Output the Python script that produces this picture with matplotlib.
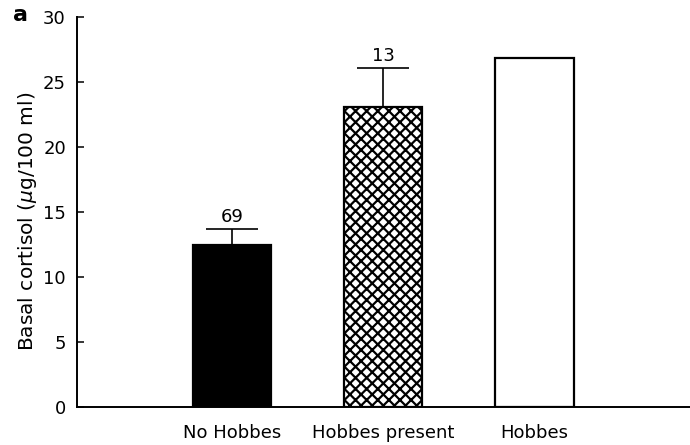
import matplotlib.pyplot as plt
import numpy as np

# basal cortisol by group
groups = ['No Hobbes', 'Hobbes present', 'Hobbes']
cortisol = [12.45, 23.1, 26.85]
sem_upper = [1.25, 3.0, 0.0]
n_labels = ['69', '13', '']
fills = ['black', 'white', 'white']
hatches = [None, 'xxx', None]

plt.rcParams['font.family'] = ['DejaVu Sans']
plt.rcParams['hatch.linewidth'] = 1.6

fig = plt.figure(figsize=(6.9, 4.45), dpi=100)
ax = fig.add_axes([0.1116, 0.0854, 0.8884, 0.8764])

x = np.arange(1, len(groups) + 1)
for xi, val, err, fc, h in zip(x, cortisol, sem_upper, fills, hatches):
    ax.bar(xi, val, width=0.52, color=fc, edgecolor='black', linewidth=1.6, hatch=h)
    if err > 0:
        ax.errorbar(xi, val, yerr=[[0], [err]], fmt='none', ecolor='black',
                    elinewidth=1.2, capsize=19, capthick=1.2)

for xi, val, err, lab in zip(x, cortisol, sem_upper, n_labels):
    if lab:
        ax.text(xi, val + err + 0.2, lab, ha='center', va='bottom', fontsize=13)

ax.set_xlim(-0.026, 4.03)
ax.set_ylim(0, 30)
ax.set_yticks([0, 5, 10, 15, 20, 25, 30])
ax.set_xticks(x)
ax.set_xticklabels(groups, fontsize=13)
ax.tick_params(axis='x', length=0, pad=12)
ax.tick_params(axis='y', direction='in', length=5, width=1.1, labelsize=13, pad=8)
ax.set_ylabel(r'Basal cortisol ($\mu$g/100 ml)', fontsize=14.5)
ax.yaxis.set_label_coords(-0.062, 0.477)

for side in ['top', 'right']:
    ax.spines[side].set_visible(False)
for side in ['left', 'bottom']:
    ax.spines[side].set_linewidth(1.4)

fig.text(0.03, 0.967, 'a', fontsize=16, fontweight='bold', va='center', ha='center')

fig.savefig('out.png', dpi=100)
